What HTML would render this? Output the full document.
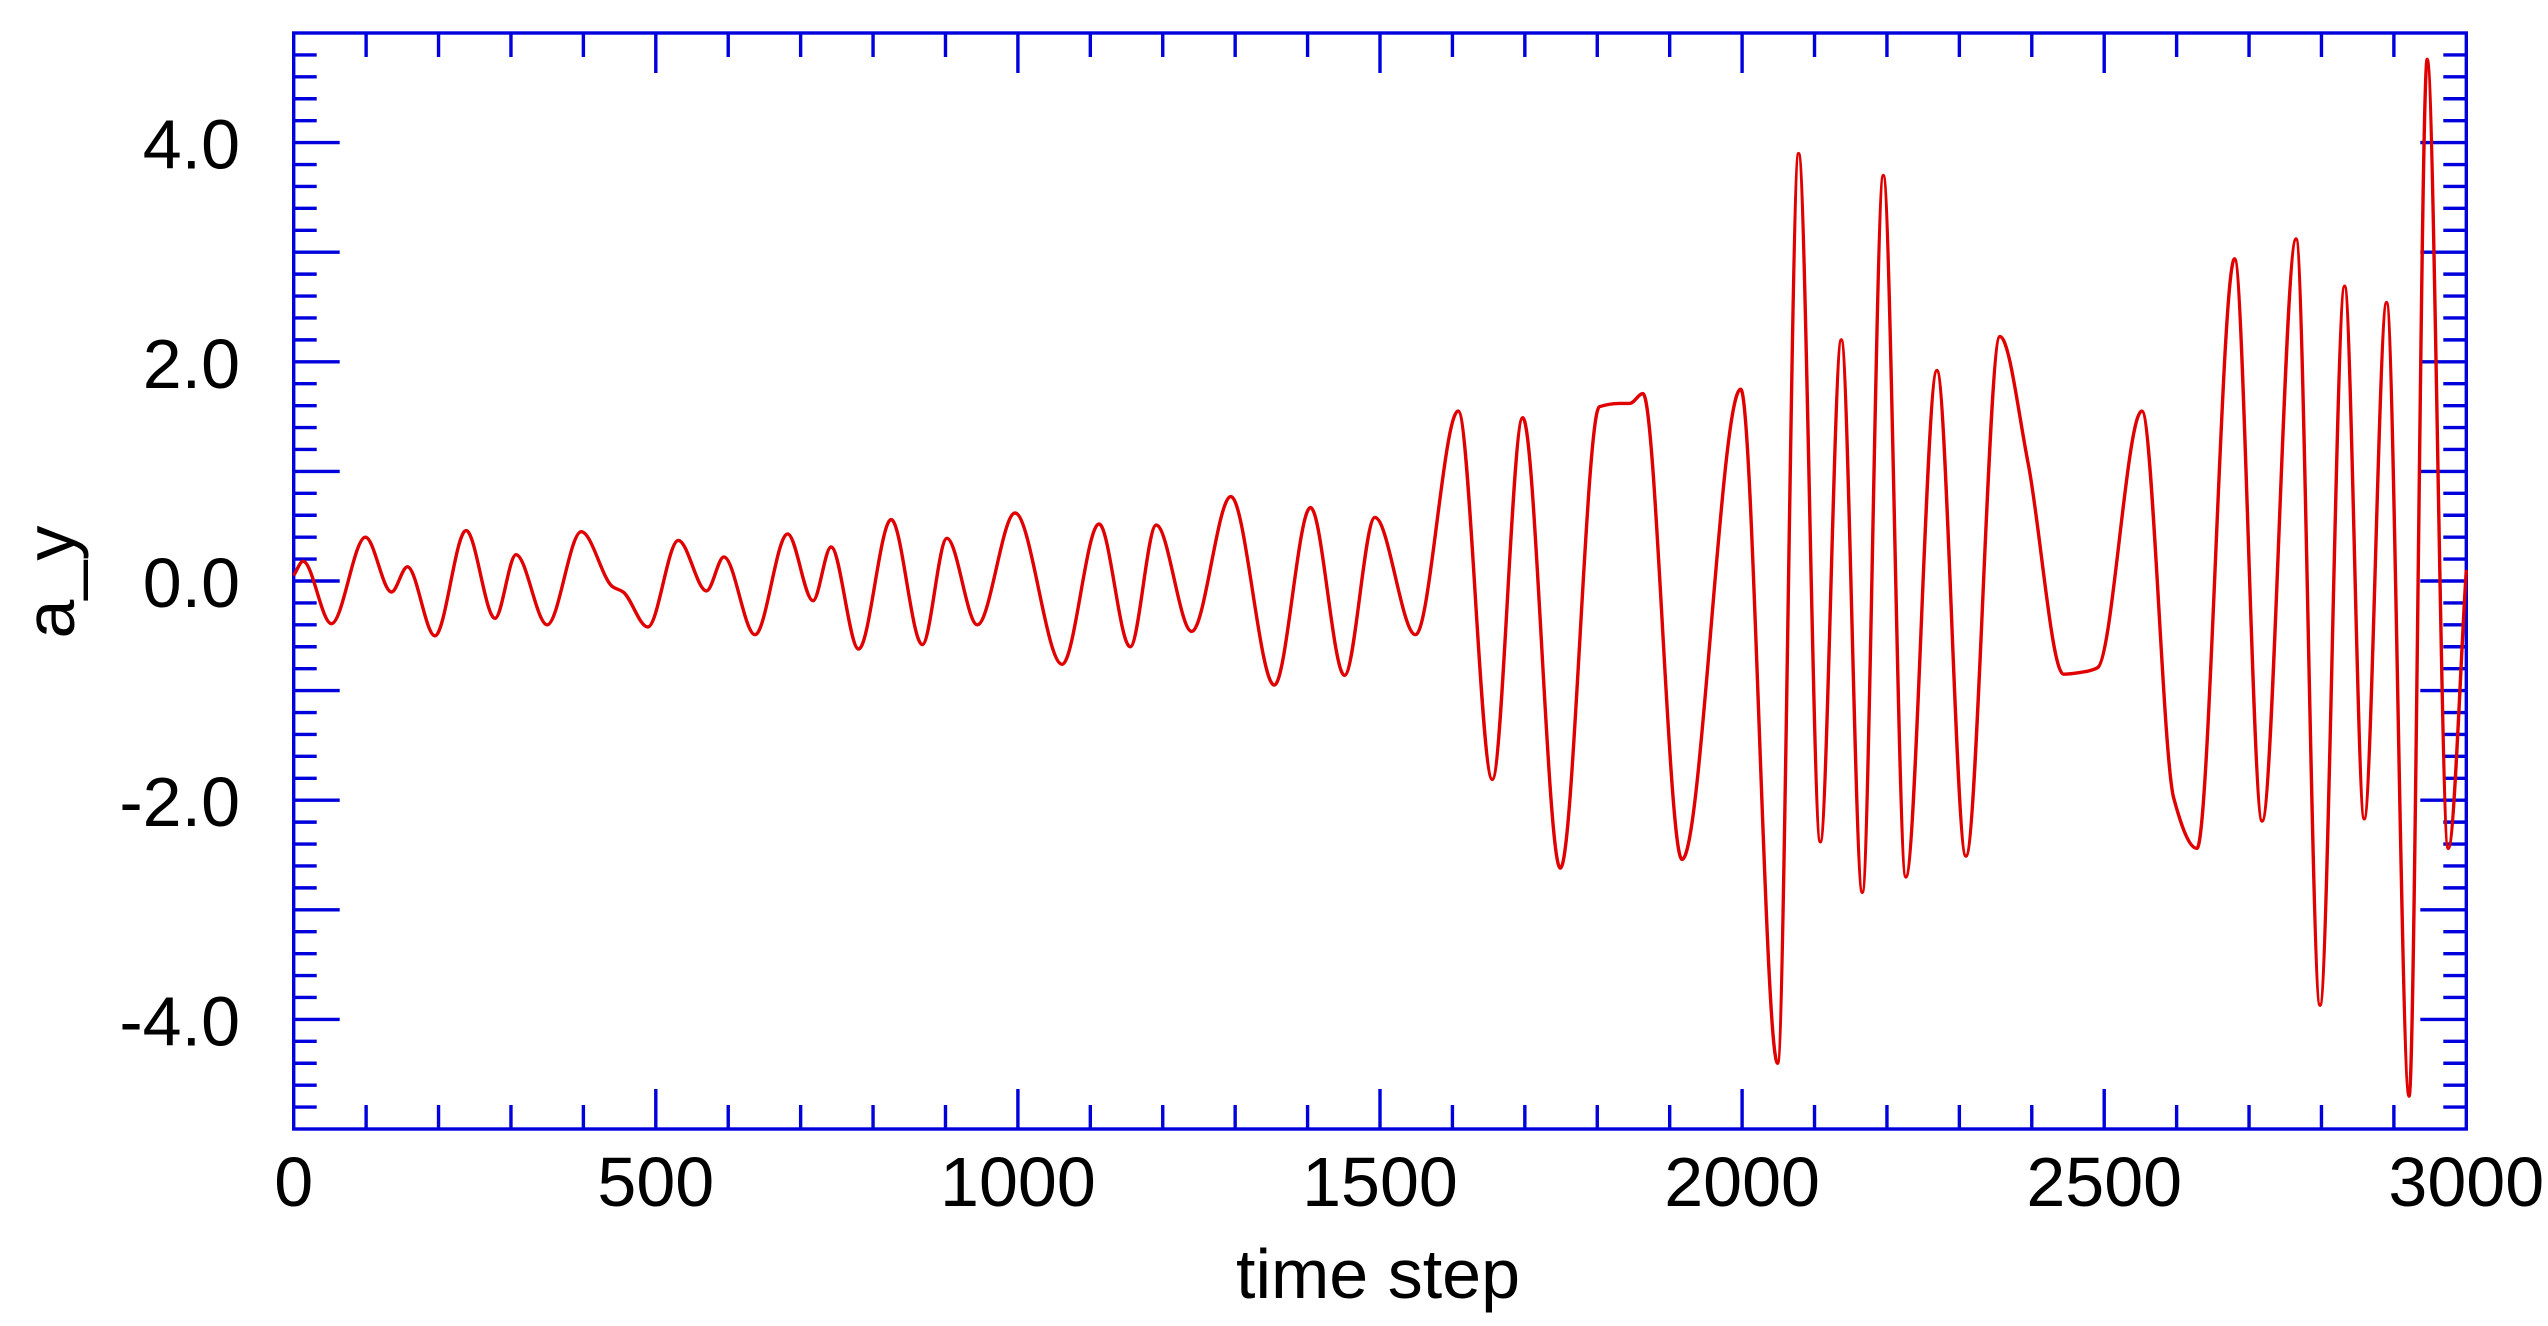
<!DOCTYPE html>
<html><head><meta charset="utf-8"><style>
html,body{margin:0;padding:0;background:#fff;}
svg{display:block;}
text{font-family:"Liberation Sans",Arial,sans-serif;fill:#000;}
</style></head><body>
<svg id="chart" width="2548" height="1326" viewBox="0 0 2548 1326" xmlns="http://www.w3.org/2000/svg">
<g id="axes"></g>
<g id="series"></g>
<text x="1378" y="1298" font-size="70" text-anchor="middle">time step</text>
<text x="0" y="0" font-size="70" text-anchor="middle" transform="translate(74,582) rotate(-90)">a_y</text>
</svg>
<script>
const xTickLabels = [0, 500, 1000, 1500, 2000, 2500, 3000];
const yTickLabels = [-4, -2, 0, 2, 4];
const times = [0,13,52,99,135,157,195,238,278,307,350,397,440,455,489,531,570,594,637,682,717,742,780,825,868,902,944,996,1061,1112,1155,1191,1240,1294,1354,1404,1451,1493,1549,1608,1655,1697,1749,1803,1830,1845,1863,1917,1998,2049,2078,2108,2137,2166,2195,2226,2269,2309,2356,2395,2444,2471,2491,2552,2596,2628,2680,2718,2765,2798,2832,2859,2890,2921,2946,2975,3000];
const values = [0.05,0.18,-0.39,0.40,-0.1,0.13,-0.5,0.46,-0.34,0.24,-0.4,0.45,-0.05,-0.1,-0.42,0.37,-0.09,0.22,-0.49,0.43,-0.18,0.31,-0.62,0.56,-0.58,0.39,-0.4,0.62,-0.76,0.52,-0.6,0.51,-0.46,0.77,-0.95,0.67,-0.86,0.58,-0.49,1.55,-1.81,1.49,-2.62,1.59,1.62,1.62,1.71,-2.54,1.75,-4.4,3.9,-2.38,2.2,-2.84,3.7,-2.7,1.92,-2.51,2.23,1.07,-0.85,-0.83,-0.79,1.55,-1.98,-2.44,2.94,-2.19,3.12,-3.87,2.69,-2.17,2.54,-4.7,4.76,-2.44,0.1];

const L=293.7, R=2466.3, T=33, B=1129;
const xMin=0, xMax=3000, yMin=-5, yMax=5;
function sx(t){return L+(t-xMin)/(xMax-xMin)*(R-L);}
function sy(v){return B-(v-yMin)/(yMax-yMin)*(B-T);}
const NS='http://www.w3.org/2000/svg';
const axes=document.getElementById('axes');
const blue='#0000dd';
function line(x1,y1,x2,y2,name){
  const l=document.createElementNS(NS,'line');
  l.setAttribute('x1',x1);l.setAttribute('y1',y1);l.setAttribute('x2',x2);l.setAttribute('y2',y2);
  l.setAttribute('stroke',blue);l.setAttribute('stroke-width','3.4');
  
  
  axes.appendChild(l);
}
const frame=document.createElementNS(NS,'rect');
frame.setAttribute('x',L);frame.setAttribute('y',T);frame.setAttribute('width',R-L);frame.setAttribute('height',B-T);
frame.setAttribute('fill','none');frame.setAttribute('stroke',blue);frame.setAttribute('stroke-width','3.4');


axes.appendChild(frame);
for(let t=xMin+100;t<xMax;t+=100){
  const major=(t%500===0), len=major?40:24, x=sx(t);
  line(x,B,x,B-len,'x-tick');
  line(x,T,x,T+len,'x-tick-top');
}
for(let i=-24;i<=24;i++){
  const v=i*0.2; const major=(i%5===0); const len=major?46:23; const y=sy(v);
  if(y<=T+1||y>=B-1) continue;
  line(L,y,L+len,y,'y-tick');
  line(R,y,R-len,y,'y-tick-right');
}
xTickLabels.forEach(t=>{
  const tx=document.createElementNS(NS,'text');
  tx.setAttribute('x',sx(t));tx.setAttribute('y',1206);tx.setAttribute('font-size','70');tx.setAttribute('text-anchor','middle');
  tx.textContent=String(t);
  
  
  axes.appendChild(tx);
});
yTickLabels.forEach(v=>{
  const tx=document.createElementNS(NS,'text');
  tx.setAttribute('x',240);tx.setAttribute('y',sy(v)+26);tx.setAttribute('font-size','70');tx.setAttribute('text-anchor','end');
  tx.textContent=v.toFixed(1);
  
  
  axes.appendChild(tx);
});
// monotone cubic interpolation
const n=times.length, d=[], m=new Array(n).fill(0);
for(let i=0;i<n-1;i++) d.push((values[i+1]-values[i])/(times[i+1]-times[i]));
m[0]=d[0]; m[n-1]=d[n-2];
for(let i=1;i<n-1;i++){ m[i]=(d[i-1]*d[i]<=0)?0:(2/(1/d[i-1]+1/d[i])); }
let p='M'+sx(times[0]).toFixed(1)+','+sy(values[0]).toFixed(1);
for(let i=0;i<n-1;i++){
  const h=times[i+1]-times[i];
  const c1t=times[i]+h/3, c1v=values[i]+m[i]*h/3;
  const c2t=times[i+1]-h/3, c2v=values[i+1]-m[i+1]*h/3;
  p+=' C'+sx(c1t).toFixed(1)+','+sy(c1v).toFixed(1)+' '+sx(c2t).toFixed(1)+','+sy(c2v).toFixed(1)+' '+sx(times[i+1]).toFixed(1)+','+sy(values[i+1]).toFixed(1);
}
const path=document.createElementNS(NS,'path');
path.setAttribute('d',p);path.setAttribute('fill','none');path.setAttribute('stroke','#e00000');path.setAttribute('stroke-width','3.4');


document.getElementById('series').appendChild(path);
</script>
</body></html>
